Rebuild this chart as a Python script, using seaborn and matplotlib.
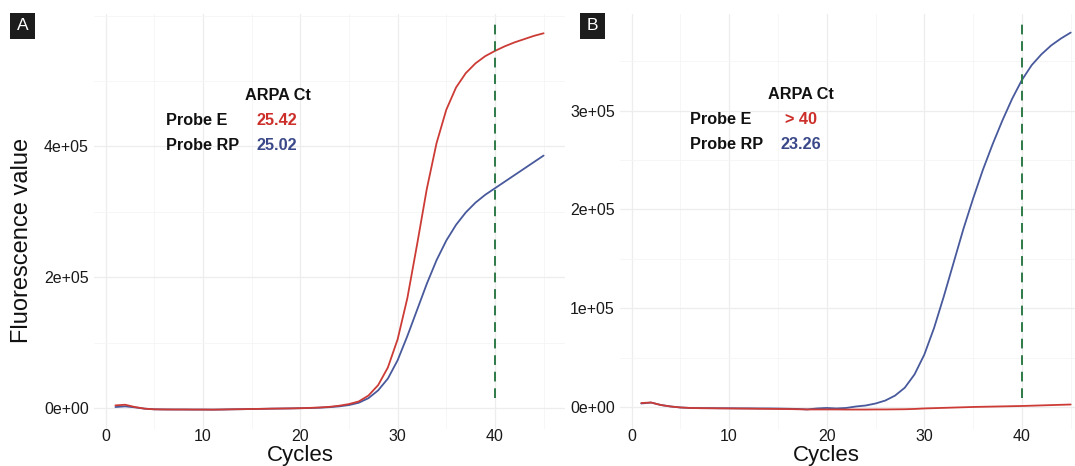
import matplotlib
matplotlib.use("Agg")
import matplotlib.pyplot as plt
import numpy as np
import pandas as pd
import seaborn as sns
from matplotlib.patches import Rectangle
from matplotlib.ticker import MultipleLocator, FuncFormatter

# ---- amplification data ----
cycles = list(range(1, 46))

a_probe_e = [4000, 5000, 1500, -1000, -2000, -2200, -2300, -2300, -2400, -2400,
             -2500, -2300, -2000, -1800, -1500, -1300, -1000, -800, -600, -300,
             200, 800, 1800, 3500, 6000, 10000, 19000, 35000, 62000, 105000,
             168000, 250000, 335000, 405000, 456000, 490000, 512000, 527000, 538000, 546000,
             553000, 559000, 564000, 569000, 573000]
a_probe_rp = [1500, 2500, 1000, -1000, -2000, -2200, -2300, -2300, -2400, -2400,
              -2500, -2300, -2000, -1800, -1500, -1300, -1000, -800, -600, -300,
              0, 500, 1300, 2500, 4500, 8000, 15000, 27000, 45000, 73000,
              110000, 150000, 190000, 226000, 256000, 280000, 299000, 314000, 326000, 336000,
              346000, 356000, 366000, 376000, 386000]

b_probe_e = [4000, 4500, 2000, 500, -500, -1000, -1200, -1300, -1400, -1500,
             -1600, -1700, -1800, -1900, -2000, -2100, -2300, -2500, -2500, -2500,
             -2500, -2600, -2600, -2600, -2500, -2500, -2400, -2300, -2000, -1500,
             -1200, -900, -600, -300, 0, 200, 400, 600, 800, 1000,
             1300, 1600, 1900, 2200, 2500]
b_probe_rp = [3500, 4500, 2000, 500, -500, -1000, -1200, -1200, -1300, -1300,
              -1400, -1400, -1500, -1500, -1600, -1800, -2000, -2500, -1500, -1000,
              -1500, -1000, 500, 1500, 3500, 6500, 11500, 19500, 33000, 53000,
              80000, 112000, 146000, 180000, 211000, 240000, 266000, 290000, 312000, 331000,
              346000, 357000, 366000, 373000, 379000]

probes = ["Probe E", "Probe RP"]
ct_a = ["25.42", "25.02"]
ct_b = ["> 40", "23.26"]
cutoff_cycle = 40
x_ticks = [0, 10, 20, 30, 40]
a_y_ticks = [0, 2e5, 4e5]
b_y_ticks = [0, 1e5, 2e5, 3e5]

line_colors = {"Probe E": "#CC3B35", "Probe RP": "#48599C"}
text_colors = {"Probe E": "#CC2E2A", "Probe RP": "#3A4889"}
cut_color = "#2E7A48"

# ---- style ----
sns.set_theme(style="white")
plt.rcParams["font.family"] = ["Liberation Sans", "DejaVu Sans"]

W, H = 1075, 466
fig = plt.figure(figsize=(W / 100, H / 100), dpi=100)


def fx(px):
    return px / W


def fy(py):
    return 1 - py / H


ax_a = fig.add_axes([fx(94), fy(429), (565 - 94) / W, (429 - 14.5) / H])
ax_b = fig.add_axes([fx(620), fy(429), (1075 - 620) / W, (429 - 14.5) / H])


def sci(v, _pos):
    return f"{v:.0e}"


def draw_panel(ax, e_vals, rp_vals, y_ticks, y_minor, xlim, ylim):
    df = pd.DataFrame({
        "Cycles": cycles + cycles,
        "Fluorescence value": e_vals + rp_vals,
        "Probe": [probes[0]] * len(cycles) + [probes[1]] * len(cycles),
    })
    sns.lineplot(data=df, x="Cycles", y="Fluorescence value", hue="Probe",
                 hue_order=[probes[1], probes[0]], palette=line_colors,
                 linewidth=1.3, legend=False, ax=ax, sort=True, errorbar=None)
    ax.axvline(cutoff_cycle, ymin=0.075, ymax=0.982, color=cut_color,
               lw=1.4, linestyle=(0, (5, 3.5)))
    ax.set_xlim(*xlim)
    ax.set_ylim(*ylim)
    ax.set_xticks(x_ticks)
    ax.set_yticks(y_ticks)
    ax.xaxis.set_minor_locator(MultipleLocator(5))
    ax.yaxis.set_minor_locator(MultipleLocator(y_minor))
    ax.yaxis.set_major_formatter(FuncFormatter(sci))
    ax.grid(which="major", color="#EDEDED", lw=0.9)
    ax.grid(which="minor", color="#F5F5F5", lw=0.6)
    ax.set_axisbelow(True)
    for s in ax.spines.values():
        s.set_visible(False)
    ax.tick_params(axis="both", which="both", length=0, labelsize=11.5,
                   labelcolor="#1a1a1a")
    ax.tick_params(axis="x", pad=0)
    ax.tick_params(axis="y", pad=3.7)
    ax.set_facecolor("white")


draw_panel(ax_a, a_probe_e, a_probe_rp, a_y_ticks, 1e5,
           (-1.2, 47.2), (-32100, 601700))
draw_panel(ax_b, b_probe_e, b_probe_rp, b_y_ticks, 5e4,
           (-1.18, 45.44), (-22300, 397300))

ax_a.set_ylabel("Fluorescence value", fontsize=17, color="#111111")
ax_a.yaxis.set_label_coords((33 - 94) / 471, (429 - 240) / 414.5)
ax_a.set_xlabel("Cycles", fontsize=16, color="#111111")
ax_a.xaxis.set_label_coords((300 - 94) / 471, (429 - 445) / 414.5)
ax_b.set_ylabel("")
ax_b.set_xlabel("Cycles", fontsize=16, color="#111111")
ax_b.xaxis.set_label_coords((826 - 620) / 455, (429 - 445) / 414.5)

# ---- Ct annotation tables ----
def ct_table(title_cx, label_x, value_x, baselines, values):
    fig.text(fx(title_cx), fy(baselines[0]), "ARPA Ct", ha="center", va="baseline",
             fontsize=11.7, fontweight="bold", color="#111111")
    for probe, val, base, vx in zip(probes, values, baselines[1:], value_x):
        fig.text(fx(label_x), fy(base), probe, ha="left", va="baseline",
                 fontsize=11.7, fontweight="bold", color="#111111")
        fig.text(fx(vx), fy(base), val, ha="left", va="baseline",
                 fontsize=11.7, fontweight="bold", color=text_colors[probe])


ct_table(278, 166, [256.5, 256.5], [99.8, 124.6, 150.4], ct_a)
ct_table(801, 690, [785, 780.6], [99, 123.5, 149], ct_b)

# ---- panel tags ----
for tag, left in (("A", 10), ("B", 580)):
    fig.patches.append(Rectangle((fx(left), fy(39)), 25 / W, 26 / H,
                                 transform=fig.transFigure, fc="#1c1c1c",
                                 ec="none", zorder=5))
    fig.text(fx(left + 12.5), fy(26), tag, ha="center", va="center",
             fontsize=12.5, color="white", zorder=6)

fig.savefig("out.png", dpi=100, facecolor="white")
